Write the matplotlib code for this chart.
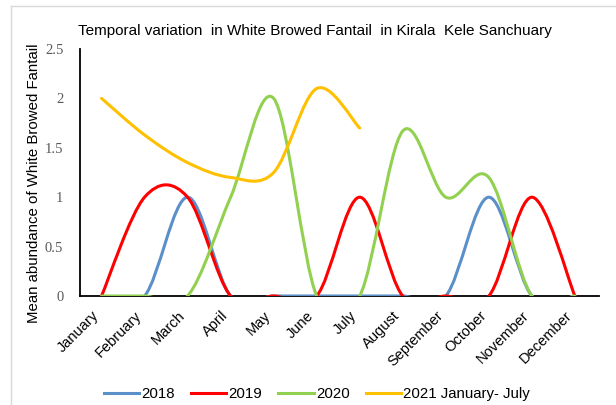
import matplotlib.pyplot as plt
import numpy as np
from matplotlib.path import Path
from matplotlib.patches import PathPatch
from matplotlib.lines import Line2D

months = ['January', 'February', 'March', 'April', 'May', 'June', 'July',
          'August', 'September', 'October', 'November', 'December']

y2018 = [0, 0, 1, 0, 0, 0, 0, 0, 0, 1, 0, 0]
y2019 = [0, 1, 1, 0, 0, 0, 1, 0, 0, 0, 1, 0]
y2020 = [0, 0, 0, 1, 2, 0, 0, 1.67, 1, 1.2, 0, 0]
y2021 = [2, 1.63, 1.35, 1.2, 1.25, 2.1, 1.7]

series = [
    ('2018', y2018, '#5B8FC9'),
    ('2019', y2019, '#FF0000'),
    ('2020', y2020, '#92D050'),
    ('2021 January- July', y2021, '#FFC000'),
]


def smooth_path(ys):
    # Excel-style smoothed line: Catmull-Rom turned into cubic Bezier segments
    xs = np.arange(len(ys), dtype=float)
    ys = np.asarray(ys, dtype=float)
    pts = np.column_stack([xs, ys])
    ext = np.vstack([pts[0], pts, pts[-1]])
    verts = [pts[0]]
    codes = [Path.MOVETO]
    for i in range(len(pts) - 1):
        p0, p1, p2, p3 = ext[i], ext[i + 1], ext[i + 2], ext[i + 3]
        verts += [p1 + (p2 - p0) / 6, p2 - (p3 - p1) / 6, p2]
        codes += [Path.CURVE4] * 3
    return Path(verts, codes)


fig = plt.figure(figsize=(6.16, 4.05), dpi=100)
ax = fig.add_axes([80 / 616, 1 - 296 / 405, 519 / 616, 247 / 405])

for name, ys, color in series:
    patch = PathPatch(smooth_path(ys), facecolor='none', edgecolor=color,
                      lw=2.2, zorder=3, capstyle='round', joinstyle='round')
    ax.add_patch(patch)

ax.set_xlim(-0.5, 11.56)
ax.set_ylim(0, 2.5)
ax.set_yticks([0, 0.5, 1, 1.5, 2, 2.5])
ax.set_yticklabels(['0', '0.5', '1', '1.5', '2', '2.5'],
                   family='Liberation Serif', fontsize=10.5, color='#595959')
ax.set_xticks(range(len(months)))
ax.set_xticklabels(months, rotation=45, ha='right', va='top',
                   family='Liberation Sans', fontsize=10.5)
ax.tick_params(axis='both', length=0)
ax.tick_params(axis='y', pad=12)
ax.tick_params(axis='x', pad=9)

for s in ['top', 'right']:
    ax.spines[s].set_visible(False)
ax.spines['left'].set_linewidth(1.3)
ax.spines['bottom'].set_linewidth(1.3)

ax.set_ylabel('Mean abundance of White Browed Fantail',
              family='Liberation Sans', fontsize=10.8)
ax.yaxis.set_label_coords(-0.075, 0.457)

fig.text(78 / 616, 1 - 31 / 405,
         'Temporal variation  in White Browed Fantail  in Kirala  Kele Sanchuary',
         family='Liberation Sans', fontsize=11, va='center', ha='left')

handles = [Line2D([], [], color=c, lw=2.2) for _, _, c in series]
fig.legend(handles, [n for n, _, _ in series], loc='center',
           bbox_to_anchor=(317 / 616, 1 - 394 / 405), ncol=4, frameon=False,
           prop={'family': 'Liberation Sans', 'size': 10.8},
           handlelength=2.35, handletextpad=0.15, columnspacing=1.07)

# chart frame
fig.add_artist(Line2D([11 / 616, 11 / 616], [0, 1 - 6 / 405], color='#D9D9D9', lw=1))
fig.add_artist(Line2D([11 / 616, 1], [1 - 6 / 405, 1 - 6 / 405], color='#D9D9D9', lw=1))

fig.savefig('out.png', dpi=100)
